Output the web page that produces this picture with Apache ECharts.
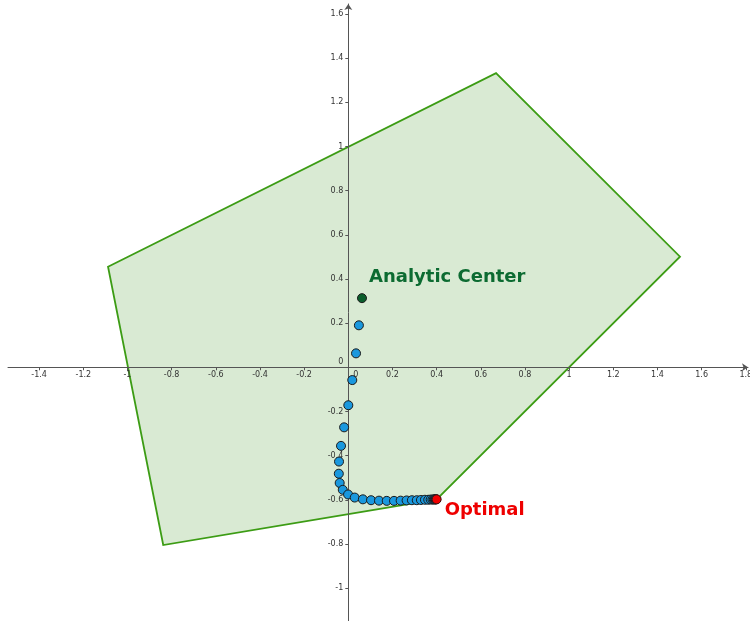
<!DOCTYPE html>
<html>
<head>
<meta charset="utf-8">
<script src="https://cdn.jsdelivr.net/npm/echarts@6/dist/echarts.min.js"></script>
<style>
  html, body { margin: 0; padding: 0; background: #ffffff; }
  #chart { width: 750px; height: 621px; }
</style>
</head>
<body>
<div id="chart"></div>
<script>
// Axis tick positions (origin labelled separately)
const xTicks = [-1.4, -1.2, -1, -0.8, -0.6, -0.4, -0.2, 0.2, 0.4, 0.6, 0.8, 1, 1.2, 1.4, 1.6, 1.8];
const yTicks = [-1, -0.8, -0.6, -0.4, -0.2, 0.2, 0.4, 0.6, 0.8, 1, 1.2, 1.4, 1.6];

// Feasible region vertices
const regionX = [-1.088, 0.669, 1.502, 0.400, -0.838];
const regionY = [0.455, 1.332, 0.501, -0.598, -0.805];

// Central path iterates from the analytic center toward the optimum
const pathX = [0.048, 0.035, 0.018, 0.000, -0.019, -0.033, -0.042, -0.043, -0.039, -0.025,
               -0.001, 0.029, 0.066, 0.103, 0.139, 0.174, 0.207, 0.237, 0.264, 0.288,
               0.310, 0.329, 0.347, 0.362, 0.373, 0.381, 0.387, 0.391, 0.394, 0.396, 0.398];
const pathY = [0.190, 0.063, -0.058, -0.172, -0.272, -0.356, -0.427, -0.482, -0.524, -0.555,
               -0.576, -0.590, -0.598, -0.602, -0.604, -0.605, -0.605, -0.604, -0.603, -0.602,
               -0.602, -0.601, -0.600, -0.600, -0.599, -0.599, -0.599, -0.598, -0.598, -0.598, -0.598];

const centerPoint = [0.062, 0.313];
const optimalPoint = [0.400, -0.598];

// Visible window of the plane
const xMin = -1.541, xMax = 1.810;
const yMin = -1.149, yMax = 1.645;
const gridBox = { left: 8, right: 2, top: 4, bottom: 0 };
const W = 750, H = 621;
const plotW = W - gridBox.left - gridBox.right;
const plotH = H - gridBox.top - gridBox.bottom;
// Shift each axis from the grid edge onto the other axis's zero
const xAxisShift = -((0 - yMin) / (yMax - yMin)) * plotH;
const yAxisShift = -((0 - xMin) / (xMax - xMin)) * plotW;

const chart = echarts.init(document.getElementById('chart'), null, { renderer: 'canvas' });

const tickFont = { fontFamily: 'DejaVu Sans', fontSize: 8, color: '#333333' };
const axisColor = '#555555';

function axisConfig(ticks, min, max, margin, position, shift) {
  return {
    type: 'value',
    min: min,
    max: max,
    position: position,
    offset: shift,
    z: 2,
    axisLine: {
      onZero: false,
      symbol: ['none', 'arrow'],
      symbolSize: [6, 6],
      lineStyle: { color: axisColor, width: 1 }
    },
    axisTick: { show: true, length: 3, customValues: ticks, lineStyle: { color: axisColor } },
    axisLabel: Object.assign({ customValues: ticks, margin: margin, hideOverlap: false }, tickFont),
    splitLine: { show: false }
  };
}

chart.setOption({
  animation: false,
  grid: Object.assign({ containLabel: false, outerBoundsMode: 'none' }, gridBox),
  xAxis: axisConfig(xTicks, xMin, xMax, 4, 'bottom', xAxisShift),
  yAxis: axisConfig(yTicks, yMin, yMax, 5, 'left', yAxisShift),
  series: [
    {
      type: 'custom',
      z: 1,
      silent: true,
      data: [0],
      renderItem: function (params, api) {
        return {
          type: 'polygon',
          shape: { points: regionX.map(function (x, i) { return api.coord([x, regionY[i]]); }) },
          style: { fill: '#d9ead3', stroke: '#3c9c14', lineWidth: 1.8 }
        };
      }
    },
    {
      type: 'scatter',
      z: 3,
      silent: true,
      data: pathX.map(function (x, i) { return [x, pathY[i]]; }),
      symbolSize: 9,
      itemStyle: { color: '#1a98de', borderColor: '#1b1b1b', borderWidth: 1, opacity: 1 }
    },
    {
      type: 'scatter',
      z: 4,
      silent: true,
      data: [centerPoint],
      symbolSize: 9,
      itemStyle: { color: '#0b5e2c', borderColor: '#1b1b1b', borderWidth: 1, opacity: 1 },
      label: {
        show: true,
        formatter: 'Analytic Center',
        position: 'right',
        distance: 2,
        offset: [0, -21],
        color: '#0c6b31',
        fontFamily: 'DejaVu Sans',
        fontWeight: 'bold',
        fontSize: 18
      }
    },
    {
      type: 'scatter',
      z: 4,
      silent: true,
      data: [optimalPoint],
      symbolSize: 9,
      itemStyle: { color: '#f00000', borderColor: '#3a1010', borderWidth: 1, opacity: 1 },
      label: {
        show: true,
        formatter: 'Optimal',
        position: 'right',
        distance: 3,
        offset: [0, 11.5],
        color: '#ee0000',
        fontFamily: 'DejaVu Sans',
        fontWeight: 'bold',
        fontSize: 18
      }
    }
  ]
});

// Origin labels for both axes
const origin = chart.convertToPixel({ gridIndex: 0 }, [0, 0]);
chart.setOption({
  graphic: [
    {
      type: 'text', z: 2,
      x: origin[0] - 5, y: origin[1] - 5,
      style: { text: '0', align: 'right', verticalAlign: 'middle',
               fontFamily: 'DejaVu Sans', fontSize: 8, fill: '#333333' }
    },
    {
      type: 'text', z: 2,
      x: origin[0] + 7.4, y: origin[1] + 7.7,
      style: { text: '0', align: 'center', verticalAlign: 'middle',
               fontFamily: 'DejaVu Sans', fontSize: 8, fill: '#333333' }
    }
  ]
});
</script>
</body>
</html>
